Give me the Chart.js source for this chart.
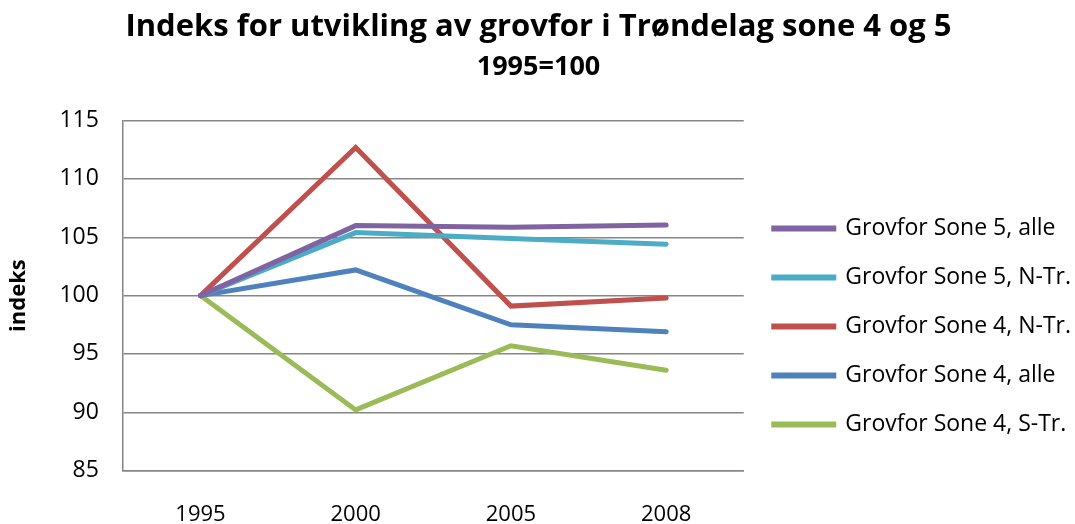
<!DOCTYPE html>
<html lang="no">
  <head>
    <meta charset="UTF-8" />
    <script src="https://cdn.jsdelivr.net/npm/chart.js"></script>
    <title>Grovfor indeks</title>
    <style>
      body { margin: 0; background: #fff; }
    </style>
  </head>
  <body>
    <div style="width: 1075px; height: 524px">
      <canvas id="chart"></canvas>
    </div>
    <script>
      const years = ["1995", "2000", "2005", "2008"];
      const sone5Alle = [100, 106.0, 105.85, 106.05];
      const sone5NTr = [100, 105.4, 104.9, 104.4];
      const sone4NTr = [100, 112.7, 99.1, 99.8];
      const sone4Alle = [100, 102.2, 97.5, 96.9];
      const sone4STr = [100, 90.2, 95.7, 93.6];

      const font = "'Open Sans', sans-serif";

      function series(label, data, color) {
        return {
          label: label,
          data: data,
          borderColor: color,
          backgroundColor: color,
          borderWidth: 5,
          pointRadius: 0,
          tension: 0,
          borderCapStyle: "round",
        };
      }

      // the layout caps side boxes at a quarter of the width, the legend needs more;
      // also nudge it a bit right/down like the original
      const wideLegend = {
        id: "wideLegend",
        afterInit(chart) {
          const legend = chart.legend;
          if (!legend) return;
          const fit = legend.fit;
          legend.fit = function () {
            this.maxWidth = 400;
            fit.call(this);
          };
        },
        afterLayout(chart) {
          const legend = chart.legend;
          if (!legend) return;
          legend.left += 4;
          legend.right += 4;
          legend.top += 47;
          legend.bottom += 47;
        },
      };

      function drawChart() {
        new Chart(document.getElementById("chart"), {
          type: "line",
          plugins: [wideLegend],
          data: {
            labels: years,
            datasets: [
              series("Grovfor Sone 5, alle", sone5Alle, "#8064A2"),
              series("Grovfor Sone 5, N-Tr.", sone5NTr, "#4BACC6"),
              series("Grovfor Sone 4, N-Tr.", sone4NTr, "#C0504D"),
              series("Grovfor Sone 4, alle", sone4Alle, "#4F81BD"),
              series("Grovfor Sone 4, S-Tr.", sone4STr, "#9BBB59"),
            ],
          },
          options: {
            responsive: true,
            maintainAspectRatio: false,
            animation: false,
            layout: { padding: { left: 0, right: -2, top: 0, bottom: -35 } },
            plugins: {
              title: {
                display: true,
                text: "Indeks for utvikling av grovfor i Trøndelag sone 4 og 5",
                color: "#000",
                font: { family: font, size: 31, weight: "bold" },
                padding: { top: 9, bottom: 1 },
              },
              subtitle: {
                display: true,
                text: "1995=100",
                color: "#000",
                font: { family: font, size: 27, weight: "bold" },
                padding: { top: 4, bottom: 37 },
              },
              legend: {
                position: "right",
                labels: {
                  color: "#000",
                  font: { family: font, size: 23 },
                  boxWidth: 60,
                  boxHeight: 1,
                  padding: 26,
                },
              },
              tooltip: { enabled: false },
            },
            scales: {
              x: {
                offset: true,
                grid: { display: false, drawTicks: false },
                border: { color: "#868686", width: 1.5 },
                ticks: { color: "#000", font: { family: font, size: 22 }, padding: 31 },
              },
              y: {
                min: 85,
                max: 115,
                ticks: {
                  stepSize: 5,
                  color: "#000",
                  font: { family: font, size: 23 },
                  padding: 24,
                },
                grid: { color: "#868686", lineWidth: 1.5, drawTicks: false },
                border: { color: "#868686", width: 1.5 },
                title: {
                  display: true,
                  text: "indeks",
                  color: "#000",
                  font: { family: font, size: 22, weight: "bold" },
                  padding: { top: 6, bottom: 3 },
                },
              },
            },
          },
        });
      }

      // wait for the fonts so the legend is measured with the right widths
      Promise.all([
        document.fonts.load("23px 'Open Sans'"),
        document.fonts.load("bold 31px 'Open Sans'"),
      ]).then(drawChart, drawChart);
    </script>
  </body>
</html>
